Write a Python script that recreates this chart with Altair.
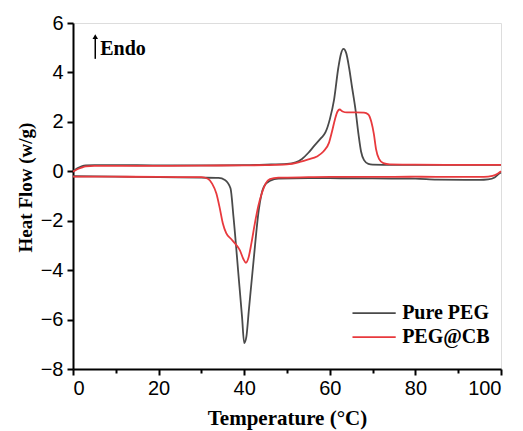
import altair as alt
import pandas as pd

# Pure PEG heating (endotherm) curve
peg_heat_T = [0, 1, 2, 3, 5, 10, 20, 30, 40, 45, 50, 52, 53.5, 55, 56.5, 58, 59, 60, 61, 62, 62.6, 63.2, 63.8, 64.5, 65.2, 66, 66.7, 67.3, 68, 69, 70, 75, 80, 90, 100]
peg_heat_v = [0.0, 0.12, 0.2, 0.24, 0.25, 0.25, 0.24, 0.24, 0.25, 0.27, 0.3, 0.36, 0.5, 0.75, 1.06, 1.35, 1.58, 2.1, 2.9, 4.2, 4.75, 4.95, 4.8, 4.2, 3.4, 2.5, 1.5, 0.8, 0.45, 0.3, 0.27, 0.26, 0.26, 0.26, 0.26]
# Pure PEG cooling (exotherm) curve
peg_cool_T = [0, 10, 20, 30, 34, 35.5, 36.8, 37.5, 38.7, 39.5, 40.0, 40.5, 41.1, 42.2, 43.4, 44.6, 46.1, 48, 55, 60, 70, 80, 85, 95, 97, 98.5, 99.5, 100]
peg_cool_v = [-0.2, -0.22, -0.24, -0.26, -0.27, -0.35, -0.69, -1.85, -4.27, -5.9, -6.95, -6.7, -5.6, -3.6, -1.57, -0.62, -0.38, -0.3, -0.28, -0.28, -0.29, -0.3, -0.34, -0.35, -0.33, -0.25, -0.1, -0.05]
# PEG@CB heating curve
cb_heat_T = [0, 1, 2, 3, 5, 10, 20, 30, 40, 45, 50, 53, 55, 57, 58.5, 59.8, 60.5, 61.2, 61.8, 62.3, 63, 64, 66, 68, 69, 69.7, 70.3, 70.8, 71.5, 72.5, 74, 80, 90, 100]
cb_heat_v = [-0.02, 0.08, 0.15, 0.2, 0.22, 0.22, 0.22, 0.23, 0.24, 0.25, 0.28, 0.38, 0.48, 0.6, 0.8, 1.15, 1.6, 2.1, 2.42, 2.5, 2.42, 2.38, 2.38, 2.37, 2.3, 2.0, 1.5, 0.9, 0.5, 0.33, 0.28, 0.27, 0.26, 0.26]
# PEG@CB cooling curve
cb_cool_T = [0, 10, 20, 30, 31.5, 32.5, 33.5, 34.3, 35, 35.8, 37, 38, 39, 39.8, 40.4, 41, 41.7, 42.5, 43.3, 44.2, 45, 46, 48, 55, 60, 70, 80, 90, 96, 98, 99.2, 100]
cb_cool_v = [-0.22, -0.22, -0.23, -0.24, -0.3, -0.5, -0.9, -1.5, -2.1, -2.5, -2.75, -2.95, -3.2, -3.55, -3.7, -3.5, -2.9, -2.1, -1.4, -0.85, -0.5, -0.32, -0.26, -0.24, -0.23, -0.23, -0.22, -0.23, -0.23, -0.19, -0.1, 0.0]

series_names = ["Pure PEG", "PEG@CB"]
series_colors = ["#4a4a4a", "#e8393d"]
legend_colors = ["#6a6a6a", "#e8393d"]

rows = []
for name, seg, T, v in [
    ("Pure PEG", "heat", peg_heat_T, peg_heat_v),
    ("Pure PEG", "cool", peg_cool_T, peg_cool_v),
    ("PEG@CB", "heat", cb_heat_T, cb_heat_v),
    ("PEG@CB", "cool", cb_cool_T, cb_cool_v),
]:
    for i, (t, y) in enumerate(zip(T, v)):
        rows.append({"sample": name, "seg": name + seg, "T": t, "v": y, "i": i})
df = pd.DataFrame(rows)

FONT_NUM = "Liberation Sans"
FONT_TXT = "Liberation Serif"

x_scale = alt.Scale(domain=[0, 100], nice=False)
y_scale = alt.Scale(domain=[-8, 6], nice=False)

x_axis = alt.Axis(
    values=list(range(0, 101, 10)),
    labelExpr="datum.value % 20 == 0 ? datum.label : ''",
    tickSize={"condition": {"test": "datum.value % 20 != 0", "value": 4}, "value": 6},
    grid=False, domainColor="black", domainWidth=2, tickColor="black", tickWidth=2,
    labelFont=FONT_NUM, labelFontSize=20, labelColor="black", labelPadding=3,
    title="Temperature (\u00b0C)", titleFont=FONT_TXT, titleFontSize=21, titleFontWeight="bold",
    titleColor="black", titleY=49, titleBaseline="middle",
)
y_axis = alt.Axis(
    values=list(range(-8, 7, 1)),
    labelExpr="datum.value % 2 == 0 ? datum.label : ''",
    tickSize={"condition": {"test": "datum.value % 2 != 0", "value": 4}, "value": 6},
    grid=False, domainColor="black", domainWidth=2, tickColor="black", tickWidth=2,
    labelFont=FONT_NUM, labelFontSize=20, labelColor="black", labelPadding=4,
    title="Heat Flow (w/g)", titleFont=FONT_TXT, titleFontSize=19, titleFontWeight="bold",
    titleColor="black", titleX=-48, titleY=164, titleAngle=-90, titleBaseline="middle", titleAlign="center",
)

lines = alt.Chart(df).mark_line(strokeWidth=1.8, interpolate="monotone").encode(
    x=alt.X("T:Q", scale=x_scale, axis=x_axis),
    y=alt.Y("v:Q", scale=y_scale, axis=y_axis),
    color=alt.Color("sample:N", scale=alt.Scale(domain=series_names, range=series_colors), legend=None),
    detail="seg:N",
    order="i:Q",
)

# manual legend (positions in data units)
leg_df = pd.DataFrame({
    "name": series_names,
    "x1": [65.3, 65.3],
    "x2": [75.4, 75.4],
    "xt": [76.9, 76.9],
    "y": [-5.74, -6.71],
})
leg_lines = alt.Chart(leg_df).mark_rule(strokeWidth=1.8).encode(
    x="x1:Q", x2="x2:Q", y="y:Q",
    color=alt.Color("name:N", scale=alt.Scale(domain=series_names, range=legend_colors), legend=None),
)
leg_text = alt.Chart(leg_df).mark_text(align="left", baseline="middle", font=FONT_TXT, fontSize=20,
                                       fontWeight="bold", color="black").encode(
    x="xt:Q", y="y:Q", text="name:N")

arrow_df = pd.DataFrame({"x": [5.2], "y1": [4.55], "y2": [5.45], "yt": [4.95], "label": ["Endo"]})
arrow_line = alt.Chart(arrow_df).mark_rule(color="black", strokeWidth=1.5).encode(
    x="x:Q", y="y1:Q", y2="y2:Q")
arrow_head = alt.Chart(arrow_df).mark_point(shape="triangle-up", filled=True, color="black",
                                             size=30, opacity=1).encode(x="x:Q", y="y2:Q")
endo_text = alt.Chart(arrow_df).mark_text(align="left", baseline="middle", dx=5,
                                          font=FONT_TXT, fontSize=20, fontWeight="bold",
                                          color="black").encode(x="x:Q", y="yt:Q", text="label:N")

chart = alt.layer(lines, leg_lines, leg_text, arrow_line, arrow_head, endo_text).properties(
    width=428, height=346,
    autosize=alt.AutoSizeParams(type="none"),
    padding={"left": 65, "top": 15, "right": 14, "bottom": 62},
).configure_view(stroke="black", strokeWidth=2).configure(background="white")

chart.save("out.html", embed_options={"renderer": "svg", "actions": False})
